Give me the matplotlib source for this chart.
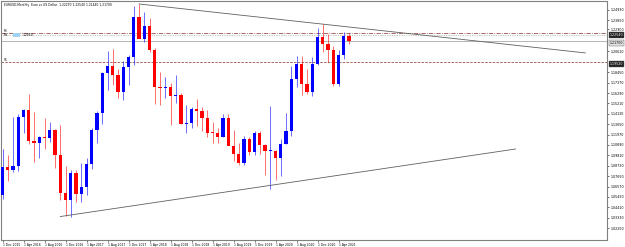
import matplotlib
matplotlib.use("Agg")
import matplotlib.pyplot as plt
from matplotlib.transforms import blended_transform_factory

########## Data ##########

# EURUSD monthly candles, Dec 2015 .. Jun 2021
months = [
    "Dec 2015", "Jan 2016", "Feb 2016", "Mar 2016", "Apr 2016", "May 2016", "Jun 2016",
    "Jul 2016", "Aug 2016", "Sep 2016", "Oct 2016", "Nov 2016", "Dec 2016", "Jan 2017",
    "Feb 2017", "Mar 2017", "Apr 2017", "May 2017", "Jun 2017", "Jul 2017", "Aug 2017",
    "Sep 2017", "Oct 2017", "Nov 2017", "Dec 2017", "Jan 2018", "Feb 2018", "Mar 2018",
    "Apr 2018", "May 2018", "Jun 2018", "Jul 2018", "Aug 2018", "Sep 2018", "Oct 2018",
    "Nov 2018", "Dec 2018", "Jan 2019", "Feb 2019", "Mar 2019", "Apr 2019", "May 2019",
    "Jun 2019", "Jul 2019", "Aug 2019", "Sep 2019", "Oct 2019", "Nov 2019", "Dec 2019",
    "Jan 2020", "Feb 2020", "Mar 2020", "Apr 2020", "May 2020", "Jun 2020", "Jul 2020",
    "Aug 2020", "Sep 2020", "Oct 2020", "Nov 2020", "Dec 2020", "Jan 2021", "Feb 2021",
    "Mar 2021", "Apr 2021", "May 2021", "Jun 2021",
]
opens = [
    1.0566, 1.0862, 1.0831, 1.0873, 1.1380, 1.1453, 1.1131, 1.1105, 1.1174, 1.1157,
    1.1240, 1.0980, 1.0589, 1.0517, 1.0798, 1.0575, 1.0652, 1.0895, 1.1242, 1.1426,
    1.1837, 1.1905, 1.1812, 1.1644, 1.1903, 1.2005, 1.2415, 1.2193, 1.2323, 1.2080,
    1.1693, 1.1683, 1.1691, 1.1602, 1.1605, 1.1310, 1.1314, 1.1466, 1.1446, 1.1372,
    1.1217, 1.1214, 1.1170, 1.1371, 1.1077, 1.0990, 1.0899, 1.1152, 1.1017, 1.1213,
    1.1092, 1.1027, 1.1030, 1.0955, 1.1100, 1.1234, 1.1778, 1.1936, 1.1720, 1.1645,
    1.1928, 1.2215, 1.2136, 1.2073, 1.1727, 1.2020, 1.2227,
]
highs = [
    1.1042, 1.0986, 1.1376, 1.1410, 1.1464, 1.1616, 1.1428, 1.1186, 1.1366, 1.1327,
    1.1258, 1.1300, 1.0874, 1.0829, 1.0829, 1.0906, 1.0951, 1.1268, 1.1446, 1.1845,
    1.2070, 1.2092, 1.1880, 1.1961, 1.2023, 1.2537, 1.2555, 1.2476, 1.2414, 1.2097,
    1.1852, 1.1791, 1.1733, 1.1815, 1.1625, 1.1500, 1.1486, 1.1570, 1.1489, 1.1448,
    1.1324, 1.1265, 1.1412, 1.1412, 1.1249, 1.1109, 1.1179, 1.1175, 1.1239, 1.1239,
    1.1096, 1.1495, 1.1040, 1.1147, 1.1422, 1.1908, 1.2011, 1.2011, 1.1881, 1.2004,
    1.2310, 1.2349, 1.2243, 1.2114, 1.2080, 1.2266, 1.2254,
]
lows = [
    1.0523, 1.0711, 1.0809, 1.0822, 1.1217, 1.1098, 1.0912, 1.0952, 1.1046, 1.1122,
    1.0852, 1.0518, 1.0352, 1.0340, 1.0494, 1.0494, 1.0569, 1.0839, 1.1110, 1.1312,
    1.1662, 1.1717, 1.1575, 1.1554, 1.1717, 1.1916, 1.2206, 1.2155, 1.2055, 1.1510,
    1.1508, 1.1575, 1.1301, 1.1526, 1.1302, 1.1216, 1.1269, 1.1289, 1.1234, 1.1176,
    1.1110, 1.1107, 1.1168, 1.1102, 1.0927, 1.0879, 1.0879, 1.0981, 1.0981, 1.0992,
    1.0778, 1.0636, 1.0727, 1.0767, 1.1100, 1.1185, 1.1696, 1.1612, 1.1622, 1.1603,
    1.1924, 1.2054, 1.1952, 1.1704, 1.1704, 1.1986, 1.2144,
]
closes = [
    1.0862, 1.0831, 1.0873, 1.1380, 1.1453, 1.1131, 1.1105, 1.1174, 1.1157, 1.1240,
    1.0980, 1.0589, 1.0517, 1.0798, 1.0575, 1.0652, 1.0895, 1.1242, 1.1426, 1.1837,
    1.1905, 1.1812, 1.1644, 1.1903, 1.2005, 1.2415, 1.2193, 1.2323, 1.2080, 1.1693,
    1.1683, 1.1691, 1.1602, 1.1605, 1.1310, 1.1314, 1.1466, 1.1446, 1.1372, 1.1217,
    1.1214, 1.1170, 1.1371, 1.1077, 1.0990, 1.0899, 1.1152, 1.1017, 1.1213, 1.1092,
    1.1027, 1.1030, 1.0955, 1.1100, 1.1234, 1.1778, 1.1936, 1.1720, 1.1645, 1.1928,
    1.2215, 1.2136, 1.2073, 1.1727, 1.2020, 1.2227, 1.2170,
]

# trend lines: (bar index, price) pairs
upper_trend_x = [26, 111]
upper_trend_y = [1.2555, 1.2046]
lower_trend_x = [11, 97.7]
lower_trend_y = [1.0345, 1.1047]

# horizontal levels
resistance = 1.2254
dotted_level = 1.2233
bid = 1.2170
support = 1.1952

x_tick_idx = [0, 4, 8, 12, 16, 20, 24, 28, 32, 36, 40, 44, 48, 52, 56, 60, 64]
x_tick_labels = [
    "1 Dec 2015", "1 Apr 2016", "1 Aug 2016", "1 Dec 2016", "1 Apr 2017", "1 Aug 2017",
    "1 Dec 2017", "1 Apr 2018", "1 Aug 2018", "1 Dec 2018", "1 Apr 2019", "1 Aug 2019",
    "1 Dec 2019", "1 Apr 2020", "1 Aug 2020", "1 Dec 2020", "1 Apr 2021",
]
y_ticks = [
    1.2493, 1.2385, 1.2290, 1.2061, 1.1845, 1.1737, 1.1629, 1.1521,
    1.1413, 1.1305, 1.1197, 1.1089, 1.0981, 1.0873, 1.0765, 1.0657, 1.0549, 1.0441,
    1.0333, 1.0225,
]
y_tick_labels = [
    "1.24930", "1.23850", "1.22900", "1.20610", "1.18450", "1.17370", "1.16290", "1.15210",
    "1.14130", "1.13050", "1.11970", "1.10890", "1.09810", "1.08730", "1.07650", "1.06570",
    "1.05490", "1.04410", "1.03330", "1.02250",
]

title = "EURUSD,Monthly  Euro vs US Dollar  1.22270 1.22540 1.21440 1.21700"

BULL = "#0000ff"
BEAR = "#ff0000"
GRID = "#808080"
LEVEL = "#9a5048"


########## Drawing ##########

def draw_candles(ax):
    for i in range(len(opens)):
        o, h, l, c = opens[i], highs[i], lows[i], closes[i]
        col = BULL if c >= o else BEAR
        ax.vlines(i, l, h, color=col, lw=0.5, alpha=0.8, zorder=2)
        bottom = min(o, c)
        height = max(abs(c - o), 0.0006)
        ax.bar(i, height, bottom=bottom, width=0.62, color=col, lw=0, zorder=3)


def draw_levels(ax):
    ax.plot(upper_trend_x, upper_trend_y, color="#606060", lw=0.6, zorder=4)
    ax.plot(lower_trend_x, lower_trend_y, color="#606060", lw=0.6, zorder=4)

    ax.axhline(resistance, color=LEVEL, lw=0.6, ls=(0, (5, 1.5, 1, 1.5)), zorder=1)
    ax.axhline(dotted_level, color="#909090", lw=0.5, ls=(0, (1, 1.5)), zorder=1)
    ax.axhline(bid, color="#a8a8a8", lw=0.6, zorder=1)
    ax.axhline(support, color=LEVEL, lw=0.6, ls=(0, (3, 1.5)), zorder=1)

    # price tags on the right scale
    tr = blended_transform_factory(ax.transAxes, ax.transData)
    for val, fc, tc in [(resistance, "#202020", "white"), (bid, "#e0e0e0", "black"),
                        (support, "#202020", "white")]:
        ax.text(1.004, val, "%.5f" % val, transform=tr, fontsize=2.3, color=tc,
                va="top", ha="left", clip_on=False,
                bbox=dict(boxstyle="square,pad=0.2", fc=fc, ec="#606060", lw=0.3))

    # line descriptions on the left
    ax.text(0.004, resistance, "R1", transform=tr, fontsize=2.2, va="bottom", ha="left")
    ax.text(0.004, support, "S1", transform=tr, fontsize=2.2, va="bottom", ha="left")
    ax.text(0.005, dotted_level, "Mo", transform=tr, fontsize=2.2, va="center", ha="left")
    ax.text(0.021, dotted_level, "      ", transform=tr, fontsize=2.2, va="center", ha="left",
            bbox=dict(boxstyle="square,pad=0.1", fc="#9fd4f0", ec="none"))
    ax.text(0.036, dotted_level, "1.2050", transform=tr, fontsize=2.2, va="center", ha="left")


def main():
    fig = plt.figure(figsize=(6.25, 2.47), dpi=100)
    fig.patch.set_facecolor("white")
    ax = fig.add_axes([1 / 625, 7 / 247, 606 / 625, 239 / 247])
    ax.set_facecolor("white")

    draw_candles(ax)
    draw_levels(ax)

    ax.set_xlim(-0.3, -0.3 + 606 / 5.25)
    ax.set_ylim(1.0101, 1.2586)

    ax.set_xticks(x_tick_idx)
    ax.set_xticklabels(x_tick_labels, fontsize=2.2, ha="left")
    ax.yaxis.tick_right()
    ax.set_yticks(y_ticks)
    ax.set_yticklabels(y_tick_labels, fontsize=2.3)
    ax.tick_params(axis="both", length=1.5, width=0.4, pad=1, colors="black")

    for s in ax.spines.values():
        s.set_color(GRID)
        s.set_linewidth(0.8)

    ax.text(0.005, 0.99, title, transform=ax.transAxes, fontsize=2.2, va="top", ha="left")

    fig.savefig("out.png", dpi=100, facecolor="white")


########## Main ##########
main()
